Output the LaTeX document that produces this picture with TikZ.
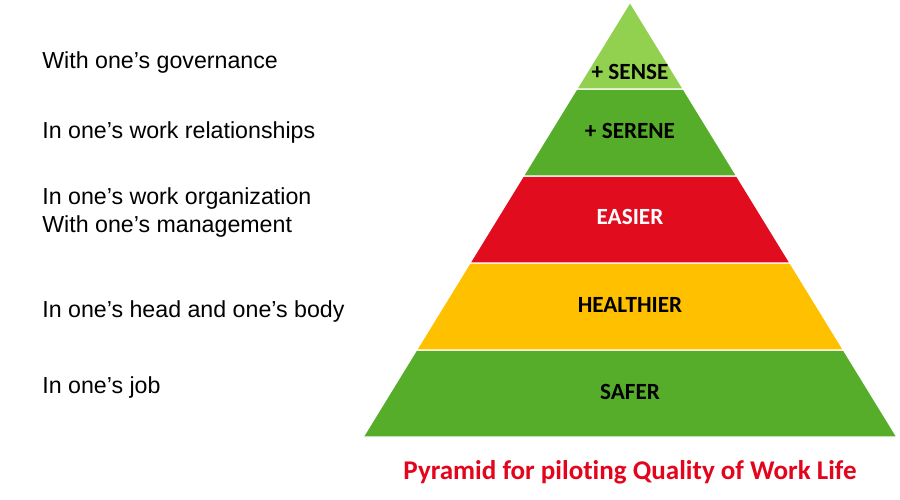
\documentclass[tikz,border=0pt]{standalone}
\usepackage{fontspec}
\setmainfont{Liberation Sans}
\newfontfamily\calibri[Ligatures={NoCommon}]{Carlito}
\usepackage{tikz}
\usetikzlibrary{positioning,calc}

\definecolor{lightgreen}{HTML}{92D050}
\definecolor{leafgreen}{HTML}{56AD2A}
\definecolor{alarmred}{HTML}{E20C1F}
\definecolor{sunyellow}{HTML}{FFC000}
\definecolor{titlered}{HTML}{E3051B}

\begin{document}
\begin{tikzpicture}[
  x=0.02cm, y=-0.02cm,
  level/.style={draw=white, line width=0.8pt, line join=miter},
  tag/.style={font=\calibri\bfseries\fontsize{13.2}{15}\selectfont, inner sep=0pt},
  aim/.style={anchor=base west, inner sep=0pt, font=\fontsize{13.2}{16}\selectfont, align=left}
]
\useasboundingbox (0,0) rectangle (900,500);
% pyramid, bottom to top
\fill[leafgreen, level] (363,437) -- (897,437) -- (843.6,350) -- (416.4,350) -- cycle;
\fill[sunyellow, level] (416.4,350) -- (843.6,350) -- (790.2,263) -- (469.8,263) -- cycle;
\fill[alarmred, level] (469.8,263) -- (790.2,263) -- (736.8,176) -- (523.2,176) -- cycle;
\fill[leafgreen, level] (523.2,176) -- (736.8,176) -- (683.4,89) -- (576.6,89) -- cycle;
\fill[lightgreen, level] (576.6,89) -- (683.4,89) -- (630,2) -- cycle;

\node[tag] (sense) at (630,71.5) {+ SENSE};
\node[tag] (serene) at (630,131) {+ SERENE};
\node[tag, text=white] (easier) at (630,217) {EASIER};
\node[tag] (healthier) at (630,305) {HEALTHIER};
\node[tag] (safer) at (630,392) {SAFER};

\node[anchor=base, inner sep=0pt, text=titlered, font=\calibri\bfseries\fontsize{15.4}{18}\selectfont] (title) at (630,479.5) {Pyramid for piloting Quality of Work Life};

% what each level is about
\node[aim] (governance) at (42,69) {With one’s governance};
\node[aim] (relations) at (42,139) {In one’s work relationships};
\node[aim] (organization) at (42,233) {In one’s work organization\\With one’s management};
\node[aim] (health) at (42,317) {In one’s head and one’s body};
\node[aim] (job) at (42,393) {In one’s job};
\end{tikzpicture}
\end{document}
